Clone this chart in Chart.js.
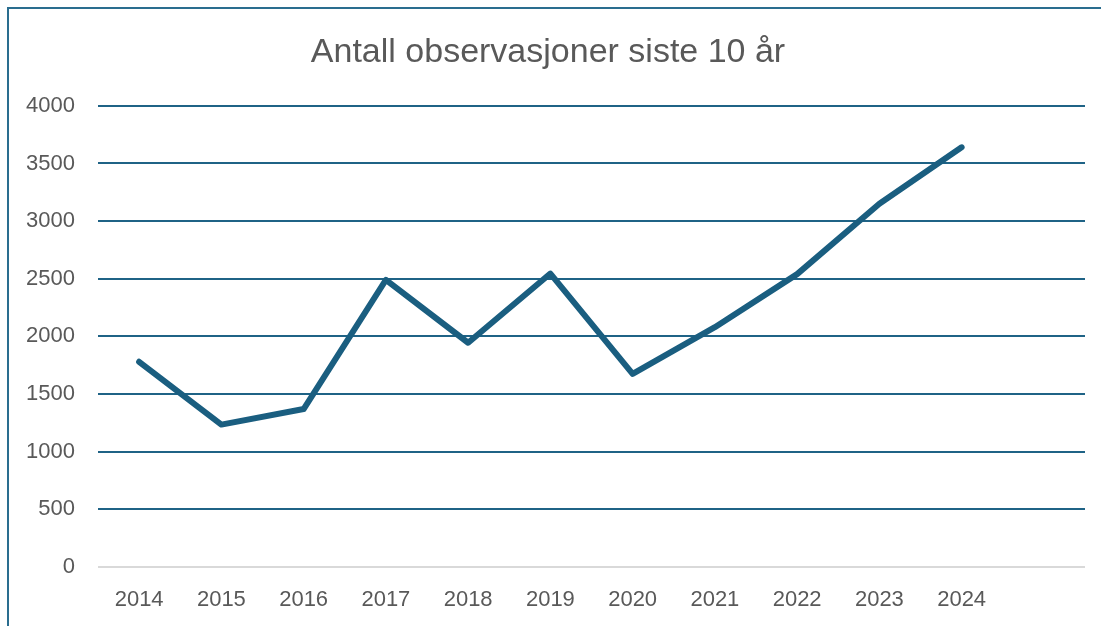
<!DOCTYPE html>
<html>
<head>
<meta charset="utf-8">
<script src="https://cdn.jsdelivr.net/npm/chart.js@4"></script>
<style>
  html, body { margin: 0; padding: 0; background: #fff; overflow: hidden; }
  #frame {
    position: absolute; left: 7px; top: 7px;
    width: 1120px; height: 650px;
    border: 2px solid #2a6d8f;
  }
  #wrap { position: absolute; left: 0; top: 0; width: 1101px; height: 626px; }
</style>
</head>
<body>
<div id="frame"></div>
<div id="wrap"><canvas id="myChart" width="1101" height="626"></canvas></div>
<script>
// years on the x axis (last slot is empty, like in the sheet)
const years = ['2014', '2015', '2016', '2017', '2018', '2019', '2020', '2021', '2022', '2023', '2024', ''];
// number of observations each year
const observations = [1780, 1235, 1370, 2490, 1945, 2545, 1675, 2080, 2540, 3150, 3640, null];
const yTicks = [0, 500, 1000, 1500, 2000, 2500, 3000, 3500, 4000];

const lineColor = '#1a5e80';
const gridColor = '#1f6386';
const textColor = '#595959';

const ctx = document.getElementById('myChart');
new Chart(ctx, {
  type: 'line',
  data: {
    labels: years,
    datasets: [
      {
        label: 'Antall observasjoner',
        data: observations,
        borderColor: lineColor,
        backgroundColor: lineColor,
        borderWidth: 6,
        borderCapStyle: 'round',
        borderJoinStyle: 'round',
        pointRadius: 0,
        tension: 0,
        spanGaps: false
      }
    ]
  },
  options: {
    responsive: false,
    animation: false,
    devicePixelRatio: 1,
    layout: { padding: { left: 11, right: 16, top: 0, bottom: 0 } },
    plugins: {
      legend: { display: false },
      tooltip: { enabled: false },
      title: {
        display: true,
        text: 'Antall observasjoner siste 10 år',
        color: textColor,
        font: { family: 'Liberation Sans', size: 34, weight: 'normal' },
        padding: { top: 32, bottom: 33 }
      }
    },
    scales: {
      x: {
        offset: true,
        grid: { display: false, drawTicks: false },
        border: { display: false },
        ticks: {
          color: textColor,
          font: { family: 'Liberation Sans', size: 22 },
          padding: 20,
          maxRotation: 0,
          autoSkip: false
        },
        afterFit: scale => { scale.height = 59; }
      },
      y: {
        min: 0,
        max: 4000,
        afterBuildTicks: scale => { scale.ticks = yTicks.map(v => ({ value: v })); },
        grid: {
          drawTicks: false,
          lineWidth: 2,
          color: c => (c.tick && c.tick.value === 0 ? '#d9d9d9' : gridColor)
        },
        border: { display: false },
        ticks: {
          color: textColor,
          font: { family: 'Liberation Sans', size: 22 },
          padding: 23,
          callback: v => String(v)
        },
        afterFit: scale => { scale.width = 87; }
      }
    }
  }
});
</script>
</body>
</html>
